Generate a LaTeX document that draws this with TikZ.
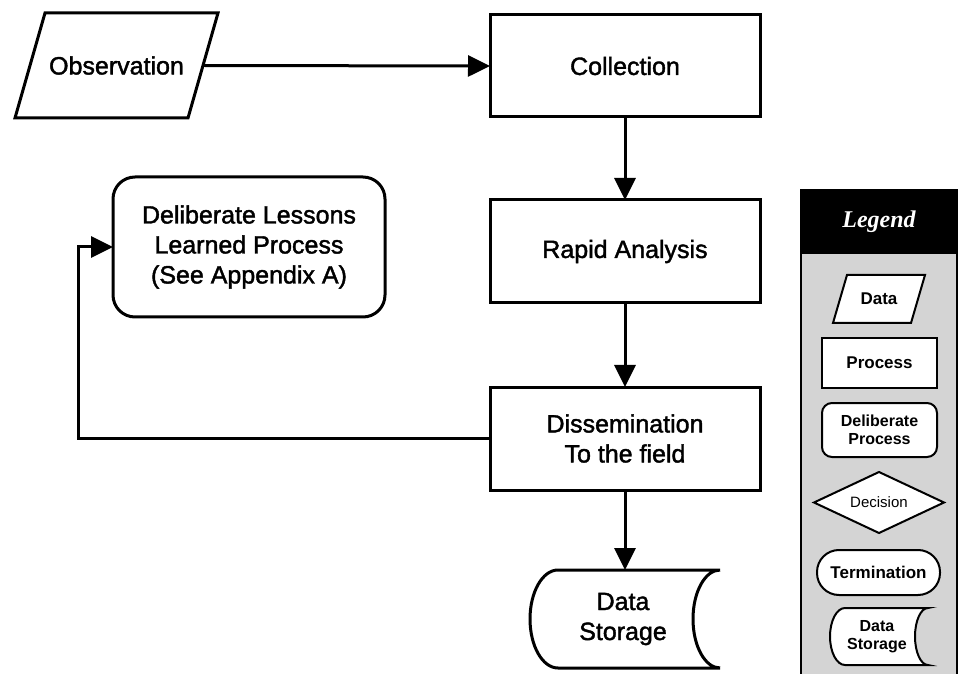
\documentclass[tikz,border=0pt]{standalone}
\usepackage{fontspec}
\setmainfont{Liberation Sans}
\newfontfamily\heavyfont{Liberation Sans}[FakeBold=1.6]
\newfontfamily\legendfont{Liberation Serif}
\usetikzlibrary{shapes.geometric,arrows.meta}
\definecolor{panelgray}{RGB}{212,212,212}
\begin{document}
\begin{tikzpicture}[x=1pt,y=1pt,
  every node/.style={inner sep=0pt, outer sep=0pt, align=center},
  mainline/.style={line width=3pt, line join=miter},
  mainfont/.style={font=\heavyfont\fontsize{25}{30}\selectfont},
  procbox/.style={mainline, draw, fill=white, rectangle, mainfont},
  flowarrow/.style={mainline, -{Triangle[length=22pt,width=21pt]}},
  legline/.style={line width=2pt},
  legbox/.style={legline, draw, fill=white, font=\bfseries\fontsize{17}{19}\selectfont}
]
\useasboundingbox (0,0) rectangle (964,673);

% main flow
\node[minimum width=173, minimum height=105] (obs) at (116.5,607.5) {};
\draw[mainline, fill=white] ([xshift=15]obs.north west) -- ([xshift=15]obs.north east)
  -- ([xshift=-15]obs.south east) -- ([xshift=-15]obs.south west) -- cycle;
\node[mainfont] at (obs.center) {Observation};
\node[procbox, minimum width=270, minimum height=102] (coll) at (625,607) {Collection};
\node[procbox, minimum width=270, minimum height=103] (rapid) at (625,421.5) {Rapid Analysis};
\node[procbox, minimum width=270, minimum height=103] (diss) at (625,234.5) {Dissemination\\To the field};
\node[mainline, draw, fill=white, rectangle, rounded corners=22, mainfont,
  minimum width=272, minimum height=140] (delib) at (249,426)
  {Deliberate Lessons\\Learned Process\\(See Appendix A)};

% data storage symbol
\node[minimum width=190, minimum height=98] (store) at (625,54) {};
\draw[mainline, fill=white] ([xshift=28]store.north west) -- (store.north east)
  arc[start angle=90, end angle=270, x radius=27, y radius=49]
  -- ([xshift=28]store.south west)
  arc[start angle=270, end angle=90, x radius=28, y radius=49] -- cycle;
\node[mainfont] at ([xshift=-2]store.center) {Data\\Storage};

% connectors
\coordinate (fb) at (78,426);
\draw[flowarrow] (obs.east) -- (coll.west);
\draw[flowarrow] (coll.south) -- (rapid.north);
\draw[flowarrow] (rapid.south) -- (diss.north);
\draw[flowarrow] (diss.south) -- (store.north);
\draw[flowarrow] (diss.west) -| (fb) -- (delib.west);

% legend panel
\node[legline, draw, fill=panelgray, minimum width=156, minimum height=486, anchor=south west]
  (panel) at (801,-3) {};
\node[legline, draw, fill=black, minimum width=156, minimum height=63, anchor=north west,
  text=white, font=\legendfont\bfseries\itshape\fontsize{24}{28}\selectfont]
  (head) at (panel.north west) {Legend};

\node[minimum width=78, minimum height=48] (lgdata) at (879,374) {};
\draw[legline, fill=white] ([xshift=7]lgdata.north west) -- ([xshift=7]lgdata.north east)
  -- ([xshift=-7]lgdata.south east) -- ([xshift=-7]lgdata.south west) -- cycle;
\node[font=\bfseries\fontsize{17}{19}\selectfont] at (lgdata.center) {Data};
\node[legbox, rectangle, minimum width=115, minimum height=50] (lgproc) at (879.5,310) {Process};
\node[legbox, rectangle, rounded corners=10, minimum width=115, minimum height=54,
  font=\bfseries\fontsize{16}{18}\selectfont] (lgdelib) at (879.5,243) {Deliberate\\Process};
\node[legbox, diamond, aspect=2.13, minimum width=130, minimum height=61,
  font=\fontsize{15}{17}\selectfont] (lgdec) at (879,170.5) {Decision};
\node[legbox, rectangle, rounded corners=22, minimum width=123, minimum height=45]
  (lgterm) at (878.5,100.5) {Termination};

\node[minimum width=98, minimum height=57] (lgstore) at (879,36.5) {};
\draw[legline, fill=white] ([xshift=15]lgstore.north west) -- (lgstore.north east)
  arc[start angle=90, end angle=270, x radius=13, y radius=28.5]
  -- ([xshift=15]lgstore.south west)
  arc[start angle=270, end angle=90, x radius=15, y radius=28.5] -- cycle;
\node[font=\bfseries\fontsize{16}{18}\selectfont] at ([xshift=-2]lgstore.center) {Data\\Storage};
\end{tikzpicture}
\end{document}
